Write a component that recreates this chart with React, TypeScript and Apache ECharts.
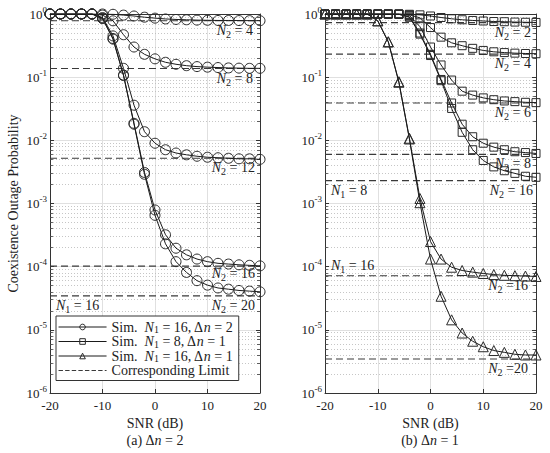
import React, { useEffect, useRef } from 'react';
import * as echarts from 'echarts';

// ---------------- data ----------------
const SNR = [-20, -18, -16, -14, -12, -10, -8, -6, -4, -2, 0, 2, 4, 6, 8, 10, 12, 14, 16, 18, 20];

// (a) Δn = 2, N1 = 16 (circles)
const A_N2_4 = [1, 1, 1, 1, 1, 1, 0.99, 0.96, 0.93, 0.89, 0.86, 0.835, 0.82, 0.81, 0.8, 0.795, 0.79, 0.79, 0.787, 0.785, 0.783];
const A_N2_8 = [1, 1, 1, 1, 1, 0.96, 0.78, 0.47, 0.3, 0.23, 0.195, 0.172, 0.16, 0.152, 0.147, 0.144, 0.142, 0.14, 0.139, 0.138, 0.138];
const A_N2_12 = [1, 1, 1, 1, 1, 0.88, 0.45, 0.138, 0.036, 0.0137, 0.009, 0.0071, 0.0063, 0.0059, 0.0056, 0.0054, 0.0053, 0.0052, 0.0051, 0.0051, 0.005];
const A_N2_16 = [1, 1, 1, 1, 1, 0.85, 0.41, 0.108, 0.0186, 0.0031, 7.9e-4, 3.2e-4, 1.96e-4, 1.54e-4, 1.32e-4, 1.2e-4, 1.13e-4, 1.1e-4, 1.07e-4, 1.05e-4, 1.03e-4];
const A_N2_20 = [1, 1, 1, 1, 1, 0.85, 0.4, 0.106, 0.018, 0.0029, 6.5e-4, 2.3e-4, 1.2e-4, 8.1e-5, 6.0e-5, 5.1e-5, 4.6e-5, 4.4e-5, 4.2e-5, 4.1e-5, 4.0e-5];
const A_LIMITS = [0.78, 0.137, 0.0052, 1.02e-4, 3.45e-5];

// (b) Δn = 1, N1 = 8 (squares)
const B_N2_2 = [1, 1, 1, 1, 1, 1, 1, 1, 0.99, 0.97, 0.93, 0.88, 0.84, 0.81, 0.79, 0.775, 0.76, 0.755, 0.745, 0.74, 0.735];
const B_N2_4 = [1, 1, 1, 1, 1, 1, 1, 1, 0.97, 0.87, 0.61, 0.43, 0.35, 0.315, 0.286, 0.265, 0.252, 0.245, 0.24, 0.237, 0.235];
const B_N2_6 = [1, 1, 1, 1, 1, 1, 1, 0.995, 0.95, 0.63, 0.3, 0.156, 0.09, 0.06, 0.052, 0.047, 0.044, 0.042, 0.041, 0.04, 0.0395];
const B_N2_8 = [1, 1, 1, 1, 1, 1, 1, 0.99, 0.9, 0.5, 0.23, 0.092, 0.039, 0.018, 0.0114, 0.009, 0.0078, 0.0071, 0.0066, 0.0064, 0.0062];
const B_N2_16 = [1, 1, 1, 1, 1, 1, 1, 0.99, 0.89, 0.48, 0.22, 0.088, 0.032, 0.0134, 0.0071, 0.0048, 0.0038, 0.0033, 0.003, 0.0027, 0.0026];
const B_LIMITS_N1_8 = [0.73, 0.232, 0.039, 0.006, 0.0023];

// (b) Δn = 1, N1 = 16 (triangles)
const B_T_N2_16 = [1, 1, 1, 1, 1, 0.78, 0.365, 0.085, 0.0108, 1.2e-3, 2.5e-4, 1.32e-4, 9.8e-5, 8.7e-5, 8.2e-5, 7.8e-5, 7.5e-5, 7.3e-5, 7.2e-5, 7.1e-5, 7.0e-5];
const B_T_N2_20 = [1, 1, 1, 1, 1, 0.78, 0.36, 0.083, 0.0105, 1.03e-3, 1.32e-4, 3.4e-5, 1.44e-5, 8.9e-6, 6.6e-6, 5.4e-6, 4.7e-6, 4.4e-6, 4.1e-6, 4.0e-6, 4.0e-6];
const B_LIMITS_N1_16 = [7.2e-5, 3.45e-6];

// axis tick labels
const Y_EXPONENTS = ['0', '-1', '-2', '-3', '-4', '-5', '-6'];
const MINOR_MULT = [2, 3, 4, 5, 6, 7, 8, 9];
const DECADES = [1e-6, 1e-5, 1e-4, 1e-3, 1e-2, 1e-1];

// ---------------- styling ----------------
const FONT = 'Liberation Serif, Times New Roman, serif';
const TXT = '#222';
const AX = '#333';
const LINE = '#1a1a1a';
const LIM = '#3a3a3a';

const RICH: any = {
  t: { fontFamily: FONT, fontSize: 14, lineHeight: 18, color: TXT },
  i: { fontFamily: FONT, fontSize: 14, lineHeight: 18, fontStyle: 'italic', color: TXT },
  sub: { fontFamily: FONT, fontSize: 10, lineHeight: 10, verticalAlign: 'bottom', color: TXT },
};
const LEG_RICH: any = {
  t: { fontFamily: FONT, fontSize: 14, lineHeight: 15, color: TXT },
  i: { fontFamily: FONT, fontSize: 14, lineHeight: 15, fontStyle: 'italic', color: TXT },
  sub: { fontFamily: FONT, fontSize: 10, lineHeight: 9, verticalAlign: 'bottom', color: TXT },
};
const TICK_RICH: any = {
  b: { fontFamily: FONT, fontSize: 13, lineHeight: 18, color: TXT },
  sup: { fontFamily: FONT, fontSize: 9, lineHeight: 9, verticalAlign: 'top', color: TXT },
};

const LEGEND_TEXT: Record<string, string> = {
  c: '{t|Sim.  }{i|N}{sub|1}{t| = 16, Δ}{i|n}{t| = 2}',
  s: '{t|Sim.  }{i|N}{sub|1}{t| = 8, Δ}{i|n}{t| = 1}',
  t: '{t|Sim.  }{i|N}{sub|1}{t| = 16, Δ}{i|n}{t| = 1}',
  l: '{t|Corresponding Limit}',
};

const nLab = (sub: string, rest: string) => `{i|N}{sub|${sub}}{t|${rest}}`;

const pts = (ys: number[]) => SNR.map((x, i) => [x, ys[i]]);

function sim(name: string, ys: number[], symbol: string, size: number, axis: number) {
  return {
    type: 'line',
    name,
    data: pts(ys),
    xAxisIndex: axis,
    yAxisIndex: axis,
    symbol,
    symbolSize: size,
    showSymbol: true,
    showAllSymbol: true,
    lineStyle: { color: LINE, width: 1 },
    itemStyle: { color: 'rgba(0,0,0,0)', borderColor: '#2a2a2a', borderWidth: 1 },
    emphasis: { disabled: true },
    silent: true,
    z: 3,
  };
}

function limit(v: number, axis: number) {
  return {
    type: 'line',
    name: 'l',
    data: [[-20, v], [20, v]],
    xAxisIndex: axis,
    yAxisIndex: axis,
    symbol: 'none',
    showSymbol: false,
    lineStyle: { color: LIM, width: 1.1, type: [7, 4] },
    itemStyle: { color: 'rgba(0,0,0,0)', borderWidth: 0 },
    emphasis: { disabled: true },
    silent: true,
    z: 2,
  };
}

const minorVals = DECADES.flatMap((d) => MINOR_MULT.map((m) => m * d));

function minorGrid(axis: number) {
  return {
    type: 'lines',
    coordinateSystem: 'cartesian2d',
    xAxisIndex: axis,
    yAxisIndex: axis,
    silent: true,
    z: 1,
    lineStyle: { color: '#b8b8b8', width: 0.8, type: [1, 2], opacity: 1 },
    data: minorVals.map((v) => ({ coords: [[-20, v], [20, v]] })),
  };
}
function minorTicks(axis: number) {
  return {
    type: 'lines',
    coordinateSystem: 'cartesian2d',
    xAxisIndex: axis,
    yAxisIndex: axis,
    silent: true,
    z: 2,
    lineStyle: { color: AX, width: 0.8, opacity: 1 },
    data: minorVals.flatMap((v) => [
      { coords: [[-20, v], [-19.45, v]] },
      { coords: [[19.45, v], [20, v]] },
    ]),
  };
}

const xAxisBottom = (g: number) => ({
  type: 'value',
  gridIndex: g,
  min: -20,
  max: 20,
  interval: 10,
  position: 'bottom',
  axisLine: { show: true, onZero: false, lineStyle: { color: AX, width: 1 } },
  axisTick: { show: true, inside: true, length: 4, lineStyle: { color: AX } },
  axisLabel: { fontFamily: FONT, fontSize: 13, color: TXT, margin: 6 },
  splitLine: { show: true, lineStyle: { color: '#e0e0e0', width: 1 } },
  name: 'SNR (dB)',
  nameLocation: 'middle',
  nameGap: 20,
  nameTextStyle: { fontFamily: FONT, fontSize: 14, color: TXT },
});
const xAxisTop = (g: number) => ({
  type: 'value',
  gridIndex: g,
  min: -20,
  max: 20,
  interval: 10,
  position: 'top',
  axisLine: { show: true, onZero: false, lineStyle: { color: AX, width: 1 } },
  axisTick: { show: true, inside: true, length: 4, lineStyle: { color: AX } },
  axisLabel: { show: false },
  splitLine: { show: false },
});
const yAxisLeft = (g: number, name: string) => ({
  type: 'log',
  logBase: 10,
  gridIndex: g,
  min: 1e-6,
  max: 1,
  position: 'left',
  axisLine: { show: true, onZero: false, lineStyle: { color: AX, width: 1 } },
  axisTick: { show: true, inside: true, length: 4, lineStyle: { color: AX } },
  axisLabel: {
    margin: 3,
    formatter: (v: number) => `{b|10}{sup|${Y_EXPONENTS[-Math.round(Math.log10(v))]}}`,
    rich: TICK_RICH,
  },
  splitLine: { show: true, lineStyle: { color: '#e0e0e0', width: 1 } },
  name,
  nameLocation: 'middle',
  nameGap: 30,
  nameRotate: 90,
  nameTextStyle: { fontFamily: FONT, fontSize: 14, color: TXT },
});
const yAxisRight = (g: number) => ({
  type: 'log',
  logBase: 10,
  gridIndex: g,
  min: 1e-6,
  max: 1,
  position: 'right',
  axisLine: { show: true, onZero: false, lineStyle: { color: AX, width: 1 } },
  axisTick: { show: true, inside: true, length: 4, lineStyle: { color: AX } },
  axisLabel: { show: false },
  splitLine: { show: false },
});

const textEl = (x: number, y: number, text: string, align: string) => ({
  type: 'text',
  x,
  y,
  z: 20,
  style: {
    text,
    rich: RICH,
    align,
    textAlign: align,
    verticalAlign: 'middle',
    textVerticalAlign: 'middle',
    fill: TXT,
    font: `14px ${FONT}`,
  },
});

const ANNOTATIONS = [
  textEl(253, 30, nLab('2', ' = 4'), 'right'),
  textEl(253, 78, nLab('2', ' = 8'), 'right'),
  textEl(255, 167, nLab('2', ' = 12'), 'right'),
  textEl(255, 273, nLab('2', ' = 16'), 'right'),
  textEl(255, 305, nLab('2', ' = 20'), 'right'),
  textEl(56, 305, nLab('1', ' = 16'), 'left'),
  textEl(531, 32, nLab('2', ' = 2'), 'right'),
  textEl(531, 63, nLab('2', ' = 4'), 'right'),
  textEl(531, 112, nLab('2', ' = 6'), 'right'),
  textEl(531, 163, nLab('2', ' = 8'), 'right'),
  textEl(533, 190, nLab('2', ' = 16'), 'right'),
  textEl(331, 190, nLab('1', ' = 8'), 'left'),
  textEl(331, 265, nLab('1', ' = 16'), 'left'),
  textEl(528, 285, nLab('2', ' =16'), 'right'),
  textEl(528, 368, nLab('2', ' =20'), 'right'),
  textEl(155, 440, '{t|(a) Δ}{i|n}{t| = 2}', 'center'),
  textEl(430, 440, '{t|(b) Δ}{i|n}{t| = 1}', 'center'),
];

const simLegendItem = (name: string) => ({
  name,
  itemStyle: { color: 'rgba(0,0,0,0)', borderColor: '#2a2a2a', borderWidth: 1 },
  lineStyle: { color: LINE, width: 1, type: 'solid' },
});

const option: any = {
  animation: false,
  backgroundColor: '#ffffff',
  textStyle: { fontFamily: FONT },
  grid: [
    { left: 50, top: 14, width: 210, height: 379 },
    { left: 325, top: 14, width: 211, height: 379 },
  ],
  xAxis: [xAxisBottom(0), xAxisTop(0), xAxisBottom(1), xAxisTop(1)],
  yAxis: [yAxisLeft(0, 'Coexistence Outage Probability'), yAxisRight(0), yAxisLeft(1, ''), yAxisRight(1)],
  legend: {
    left: 56,
    top: 316,
    orient: 'vertical',
    data: [
      simLegendItem('c'),
      simLegendItem('s'),
      simLegendItem('t'),
      {
        name: 'l',
        itemStyle: { color: 'rgba(0,0,0,0)', borderColor: 'rgba(0,0,0,0)', borderWidth: 0 },
        lineStyle: { color: LIM, width: 1.1, type: 'dashed' },
      },
    ],
    formatter: (n: string) => LEGEND_TEXT[n],
    itemWidth: 48,
    itemHeight: 7,
    itemGap: 0,
    padding: [4, 6, 3, 2],
    borderColor: AX,
    borderWidth: 1,
    borderRadius: 0,
    backgroundColor: '#ffffff',
    selectedMode: false,
    textStyle: { fontFamily: FONT, fontSize: 14, color: TXT, rich: LEG_RICH },
    z: 10,
  },
  series: [
    minorGrid(0),
    minorTicks(0),
    minorGrid(2),
    minorTicks(2),
    sim('c', A_N2_4, 'circle', 10, 0),
    sim('c', A_N2_8, 'circle', 10, 0),
    sim('c', A_N2_12, 'circle', 10, 0),
    sim('c', A_N2_16, 'circle', 10, 0),
    sim('c', A_N2_20, 'circle', 10, 0),
    ...A_LIMITS.map((v) => limit(v, 0)),
    sim('s', B_N2_2, 'rect', 8, 2),
    sim('s', B_N2_4, 'rect', 8, 2),
    sim('s', B_N2_6, 'rect', 8, 2),
    sim('s', B_N2_8, 'rect', 8, 2),
    sim('s', B_N2_16, 'rect', 8, 2),
    sim('t', B_T_N2_16, 'triangle', 10, 2),
    sim('t', B_T_N2_20, 'triangle', 10, 2),
    ...B_LIMITS_N1_8.map((v) => limit(v, 2)),
    ...B_LIMITS_N1_16.map((v) => limit(v, 2)),
  ],
  graphic: ANNOTATIONS,
};

export default function App() {
  const ref = useRef<HTMLDivElement>(null);
  useEffect(() => {
    if (!ref.current) return;
    const chart = echarts.init(ref.current, null, { renderer: 'svg' });
    chart.setOption(option);
    return () => chart.dispose();
  }, []);
  return <div ref={ref} style={{ position: 'absolute', left: 0, top: 0, width: 550, height: 453 }} />;
}
